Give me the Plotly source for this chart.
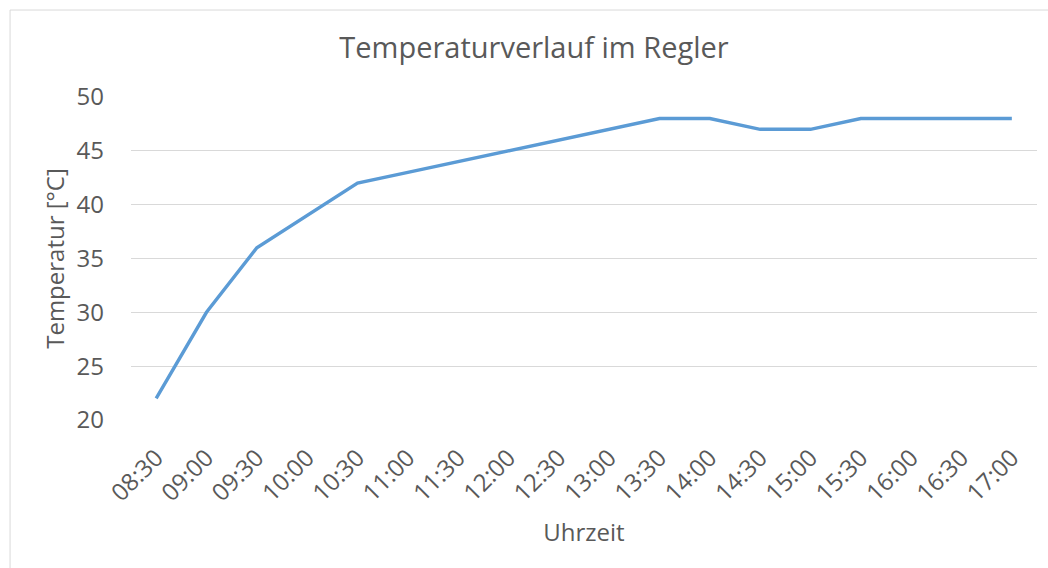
import plotly.graph_objects as go

# Regler temperature log, half-hourly readings
uhrzeit = ["08:30", "09:00", "09:30", "10:00", "10:30", "11:00", "11:30", "12:00",
           "12:30", "13:00", "13:30", "14:00", "14:30", "15:00", "15:30", "16:00",
           "16:30", "17:00"]
temperatur = [22, 30, 36, 39, 42, 43, 44, 45, 46, 47, 48, 48, 47, 47, 48, 48, 48, 48]
y_ticks = [20, 25, 30, 35, 40, 45, 50]

TEXT = "#595959"
GRID = "#d9d9d9"
FONT = "Open Sans"

fig = go.Figure()
fig.add_trace(go.Scatter(
    x=uhrzeit, y=temperatur, mode="lines",
    line=dict(color="#5b9bd5", width=3.4),
    hoverinfo="x+y",
))

fig.update_layout(
    width=1048, height=568,
    margin=dict(l=131, r=11, t=97, b=148),
    paper_bgcolor="white", plot_bgcolor="white",
    showlegend=False,
    font=dict(family=FONT, color=TEXT),
    title=dict(text="Temperaturverlauf im Regler",
               x=534 / 1048, xref="container", xanchor="center",
               y=1 - 48 / 568, yref="container", yanchor="middle",
               font=dict(size=29, color=TEXT, family=FONT)),
    shapes=[dict(type="rect", xref="paper", yref="paper",
                 x0=-0.1335, x1=1.05, y0=-0.5, y1=1.2693,
                 line=dict(color=GRID, width=1), layer="below")],
)

fig.update_xaxes(
    type="category", range=[-0.5, len(uhrzeit) - 0.5],
    tickangle=-45, tickfont=dict(size=24, color=TEXT, family=FONT),
    showgrid=False, zeroline=False, showline=False,
    ticks="", ticklabelstandoff=18,
    title=dict(text="Uhrzeit", font=dict(size=24, color=TEXT, family=FONT), standoff=17),
)
fig.update_yaxes(
    range=[20, 50], tickvals=y_ticks,
    tickfont=dict(size=24, color=TEXT, family=FONT),
    showgrid=True, gridcolor=GRID, gridwidth=1.3,
    zeroline=False, showline=False, ticks="", ticklabelstandoff=26,
    title=dict(text="Temperatur [°C]", font=dict(size=24, color=TEXT, family=FONT), standoff=5),
)

fig.write_html("out.html")
